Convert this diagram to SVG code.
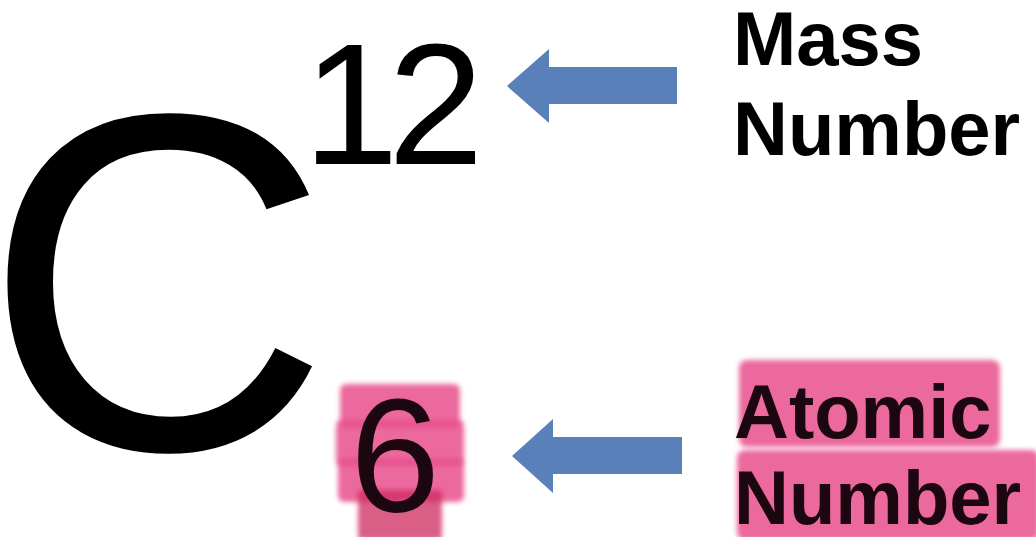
<svg xmlns="http://www.w3.org/2000/svg" width="1036" height="537" viewBox="0 0 1036 537">
  <defs>
    <filter id="soft" x="-10%" y="-10%" width="120%" height="120%">
      <feGaussianBlur stdDeviation="2.8"/>
    </filter>
  </defs>
  <style>
    .sym { font-family: "Liberation Sans", Arial, sans-serif; fill: #000; }
    .lbl { font-family: "Liberation Sans", Arial, sans-serif; font-weight: bold; font-size: 76px; fill: #000; }
    .hl-text { fill: #1c0610; }
    .hl { fill: #e8508c; fill-opacity: 0.85; filter: url(#soft); }
    .hl-dark { fill: #cf2560; fill-opacity: 0.75; filter: url(#soft); }
    .arrow { fill: #5a80ba; }
  </style>
  <rect width="1036" height="537" fill="#fff"/>

  <g id="element-symbol">
    <text class="sym" x="-17" y="449" font-size="481">C</text>
  </g>

  <g id="mass-number">
    <text class="sym" x="303 388" y="164" font-size="172">12</text>
  </g>

  <g id="atomic-number">
    <rect class="hl" x="340" y="384" width="120" height="44" rx="6"/>
    <rect class="hl" x="336" y="420" width="128" height="46" rx="6"/>
    <rect class="hl" x="338" y="458" width="126" height="44" rx="6"/>
    <rect class="hl-dark" x="358" y="490" width="84" height="50" rx="4"/>
    <text class="sym hl-text" x="350" y="511" font-size="162">6</text>
  </g>

  <g id="mass-label">
    <text class="lbl" x="733" y="65">Mass</text>
    <text class="lbl" x="733" y="155">Number</text>
  </g>

  <g id="atomic-label">
    <rect class="hl" x="739" y="360" width="261" height="87" rx="8"/>
    <rect class="hl" x="737" y="450" width="302" height="90" rx="8"/>
    <text class="lbl hl-text" x="734" y="438">Atomic</text>
    <text class="lbl hl-text" x="734" y="524">Number</text>
  </g>

  <g id="connectors">
    <polygon class="arrow" points="507,86 549,49 549,67 677,67 677,104 549,104 549,123"/>
    <polygon class="arrow" points="512,456 553,419 553,437 682,437 682,474 553,474 553,493"/>
  </g>
</svg>
